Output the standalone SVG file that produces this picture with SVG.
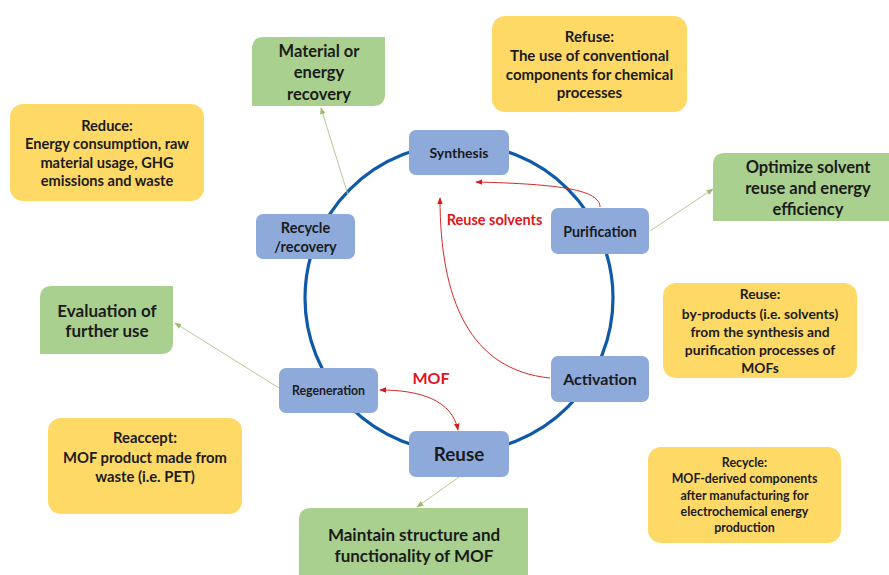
<svg xmlns="http://www.w3.org/2000/svg" width="889" height="575" viewBox="0 0 889 575">
<defs>
<style>
text{font-family:Lato,"Open Sans","Liberation Sans",sans-serif;font-weight:bold;text-anchor:middle;fill:#1b1b1b}
.blue{fill:#8eaadb}
.yellow{fill:#ffd966}
.green{fill:#a9d08e}
.red{fill:#e0161b}
.gl{stroke:#b5c99a;stroke-width:1;fill:none;marker-end:url(#ga)}
.rl{stroke:#d42a2a;stroke-width:1;fill:none}
</style>
<marker id="ga" viewBox="0 0 10 10" refX="9" refY="5" markerWidth="7" markerHeight="7" orient="auto"><path d="M0,1 L10,5 L0,9 Z" fill="#9dbd6c"/></marker>
<marker id="ra" viewBox="0 0 10 10" refX="9" refY="5" markerWidth="7" markerHeight="7" orient="auto-start-reverse"><path d="M0,1 L10,5 L0,9 Z" fill="#d41a1a"/></marker>
</defs>
<rect width="889" height="575" fill="#fff"/>

<circle cx="459" cy="298" r="154" fill="none" stroke="#0f5aa8" stroke-width="3.2"/>

<g id="connectors">
<path class="gl" d="M348,195 L321,108"/>
<path class="gl" d="M650,231 L713,189"/>
<path class="gl" d="M279,388 L175,323"/>
<path class="gl" d="M459,477 L417,507"/>
<path class="rl" marker-end="url(#ra)" d="M600,207 C600,190 560,184 476,182"/>
<path class="rl" marker-end="url(#ra)" d="M550,378 C470,370 440,300 440,198"/>
<path class="rl" marker-start="url(#ra)" marker-end="url(#ra)" d="M380,390 C420,390 452,400 458,430"/>
</g>

<g id="synthesis"><rect class="blue" x="409" y="130" width="100" height="45" rx="7"/><text x="459" y="157.5" font-size="14">Synthesis</text></g>
<g id="purification"><rect class="blue" x="551" y="208" width="98" height="46" rx="7"/><text x="600" y="236.5" font-size="14.2">Purification</text></g>
<g id="activation"><rect class="blue" x="551" y="356" width="98" height="46" rx="7"/><text x="600" y="385" font-size="16">Activation</text></g>
<g id="reuse"><rect class="blue" x="409" y="431" width="100" height="46" rx="7"/><text x="459" y="461" font-size="18.8">Reuse</text></g>
<g id="regeneration"><rect class="blue" x="279" y="368" width="99" height="45" rx="7"/><text x="328.5" y="394.5" font-size="12.3">Regeneration</text></g>
<g id="recycle-recovery"><rect class="blue" x="256" y="214" width="99" height="45" rx="7"/><text x="305.5" y="232.5" font-size="14.5">Recycle</text><text x="305.5" y="251.5" font-size="14.5">/recovery</text></g>

<g id="material-recovery"><path class="green" d="M264,37 H385 V94 Q385,106 373,106 H252 V49 Q252,37 264,37 Z"/><text x="319" y="56.5" font-size="16.5">Material or</text><text x="319" y="78" font-size="16.5">energy</text><text x="319" y="99.5" font-size="16.5">recovery</text></g>
<g id="optimize"><path class="green" d="M725,153 H889 V221 H713 V165 Q713,153 725,153 Z"/><text x="808" y="172.5" font-size="16.5">Optimize solvent</text><text x="808" y="193.5" font-size="16.5">reuse and energy</text><text x="808" y="215" font-size="16.5">efficiency</text></g>
<g id="evaluation"><path class="green" d="M52,286 H173 V342 Q173,354 161,354 H40 V298 Q40,286 52,286 Z"/><text x="107" y="316.5" font-size="17">Evaluation of</text><text x="107" y="337" font-size="17">further use</text></g>
<g id="maintain"><path class="green" d="M311,508 H528 V580 H299 V520 Q299,508 311,508 Z"/><text x="414" y="540.5" font-size="17">Maintain structure and</text><text x="414" y="561.5" font-size="17">functionality of MOF</text></g>

<g id="refuse"><rect class="yellow" x="492" y="16" width="195" height="96" rx="13"/><text x="589.5" y="42" font-size="15">Refuse:</text><text x="589.5" y="61" font-size="15">The use of conventional</text><text x="589.5" y="79.5" font-size="15">components for chemical</text><text x="589.5" y="98" font-size="15">processes</text></g>
<g id="reduce"><rect class="yellow" x="10" y="104" width="194" height="97" rx="13"/><text x="107" y="131" font-size="14.6">Reduce:</text><text x="107" y="149" font-size="14.6">Energy consumption, raw</text><text x="107" y="168" font-size="14.6">material usage, GHG</text><text x="107" y="186" font-size="14.6">emissions and waste</text></g>
<g id="reuse-note"><rect class="yellow" x="663" y="283" width="194" height="95" rx="13"/><text x="760" y="298.5" font-size="13.8">Reuse:</text><text x="760" y="318.5" font-size="13.8">by-products (i.e. solvents)</text><text x="760" y="336.5" font-size="13.8">from the synthesis and</text><text x="760" y="354.5" font-size="13.8">purification processes of</text><text x="760" y="373" font-size="13.8">MOFs</text></g>
<g id="reaccept"><rect class="yellow" x="48" y="418" width="194" height="96" rx="13"/><text x="145" y="443" font-size="14.8">Reaccept:</text><text x="145" y="462.5" font-size="14.8">MOF product made from</text><text x="145" y="482" font-size="14.8">waste (i.e. PET)</text></g>
<g id="recycle-note"><rect class="yellow" x="648" y="447" width="193" height="96" rx="13"/><text x="744.5" y="467" font-size="12.4">Recycle:</text><text x="744.5" y="483" font-size="12.4">MOF-derived components</text><text x="744.5" y="500" font-size="12.4">after manufacturing for</text><text x="744.5" y="516" font-size="12.4">electrochemical energy</text><text x="744.5" y="531.5" font-size="12.4">production</text></g>

<g id="labels"><text class="red" x="494.5" y="225" font-size="14.5">Reuse solvents</text><text class="red" x="431" y="384" font-size="16">MOF</text></g>
</svg>
